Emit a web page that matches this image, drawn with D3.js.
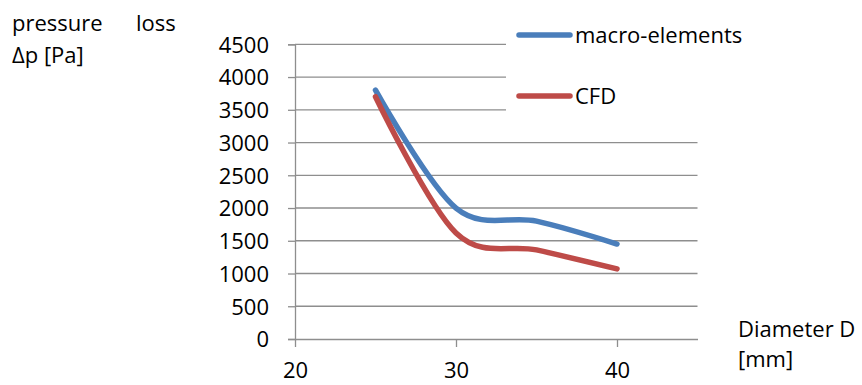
<!DOCTYPE html>
<html>
<head>
<meta charset="utf-8">
<script src="https://cdn.jsdelivr.net/npm/d3@7"></script>
<style>
  html, body { margin: 0; padding: 0; background: #fff; }
  svg { display: block; }
  text { font-family: "Open Sans", "Noto Sans", sans-serif; fill: #000; }
</style>
</head>
<body>
<svg id="chart" width="862" height="385"></svg>
<script>
// ---- data ----
const diameters = [25, 30, 35, 40];
const macroElements = [3800, 2000, 1800, 1450];
const cfd = [3700, 1620, 1360, 1070];
const seriesNames = ["macro-elements", "CFD"];
const seriesColors = ["#4A7EBB", "#BE4B48"];
const xTicks = [20, 30, 40];
const yTicks = [0, 500, 1000, 1500, 2000, 2500, 3000, 3500, 4000, 4500];

const svg = d3.select("#chart");
const plot = { left: 295, right: 697.5, top: 44.3, bottom: 339 };

const x = d3.scaleLinear().domain([20, 45]).range([plot.left, plot.right]);
const y = d3.scaleLinear().domain([0, 4500]).range([plot.bottom, plot.top]);

const fontSize = 22;
const gridColor = "#8E8E8E";

// gridlines
svg.append("g")
  .selectAll("line")
  .data(yTicks.filter(d => d > 0))
  .join("line")
  .attr("x1", plot.left).attr("x2", plot.right)
  .attr("y1", d => y(d)).attr("y2", d => y(d))
  .attr("stroke", gridColor).attr("stroke-width", 1.3);

// y axis
const yAxis = svg.append("g")
  .attr("transform", `translate(${plot.left},0)`)
  .call(d3.axisLeft(y).tickValues(yTicks).tickSize(7).tickPadding(19).tickFormat(d3.format("d")));
yAxis.select(".domain").attr("stroke", gridColor).attr("stroke-width", 1.3);
yAxis.selectAll(".tick line").attr("stroke", gridColor).attr("stroke-width", 1.3);
yAxis.selectAll(".tick text")
  .attr("font-size", fontSize)
  .attr("font-family", "Open Sans")
  .attr("fill", "#000")
  .attr("dy", "0.36em");

// x axis
const xAxis = svg.append("g")
  .attr("transform", `translate(0,${plot.bottom})`)
  .call(d3.axisBottom(x).tickValues(xTicks).tickSize(8).tickPadding(0).tickSizeOuter(0));
xAxis.select(".domain").attr("stroke", gridColor).attr("stroke-width", 1.3);
xAxis.selectAll(".tick line").attr("stroke", gridColor).attr("stroke-width", 1.3);
xAxis.selectAll(".tick text")
  .attr("font-size", fontSize)
  .attr("font-family", "Open Sans")
  .attr("fill", "#000")
  .attr("y", 0)
  .attr("dy", 39);

// legend background (covers gridlines as in the original)
svg.append("rect")
  .attr("x", 506).attr("y", 10).attr("width", 300).attr("height", 115)
  .attr("fill", "#fff");

// series lines
const line = d3.line()
  .x(d => x(d[0]))
  .y(d => y(d[1]))
  .curve(d3.curveCatmullRom.alpha(0));

const allSeries = [macroElements, cfd];
allSeries.forEach((vals, i) => {
  svg.append("path")
    .datum(diameters.map((d, j) => [d, vals[j]]))
    .attr("d", line)
    .attr("fill", "none")
    .attr("stroke", seriesColors[i])
    .attr("stroke-width", 5.5)
    .attr("stroke-linecap", "round")
    .attr("stroke-linejoin", "round");
});

// legend
const legendY = [35, 96];
seriesNames.forEach((name, i) => {
  svg.append("line")
    .attr("x1", 519).attr("x2", 570)
    .attr("y1", legendY[i]).attr("y2", legendY[i])
    .attr("stroke", seriesColors[i])
    .attr("stroke-width", 5.5)
    .attr("stroke-linecap", "round");
  svg.append("text")
    .attr("x", 575).attr("y", legendY[i] + 8)
    .attr("font-size", fontSize)
    .text(name);
});

// y axis title
svg.append("text").attr("x", 12).attr("y", 31).attr("font-size", fontSize).text("pressure");
svg.append("text").attr("x", 136).attr("y", 31).attr("font-size", fontSize).text("loss");
svg.append("text").attr("x", 12).attr("y", 63).attr("font-size", fontSize).text("Δp [Pa]");

// x axis title
svg.append("text").attr("x", 738).attr("y", 337).attr("font-size", fontSize).text("Diameter D");
svg.append("text").attr("x", 738).attr("y", 367).attr("font-size", fontSize).text("[mm]");
</script>
</body>
</html>
